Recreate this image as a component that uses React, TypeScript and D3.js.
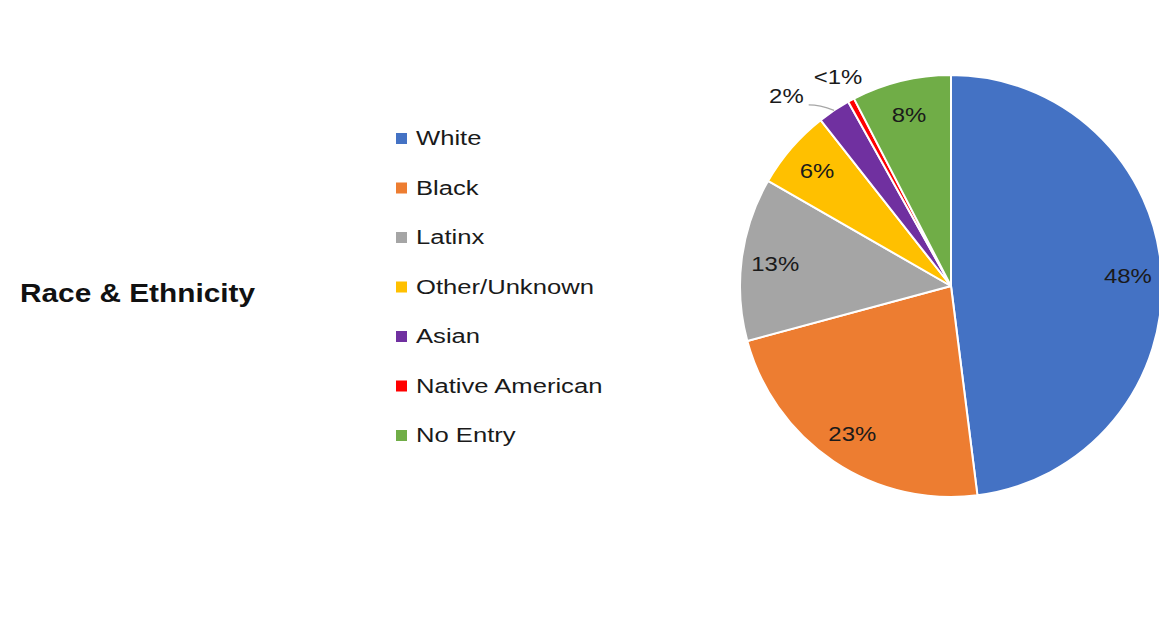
import React from "react";
import * as d3 from "d3";

const categories = ["White", "Black", "Latinx", "Other/Unknown", "Asian", "Native American", "No Entry"];
const shares = [48.0, 22.8, 12.5, 6.1, 2.5, 0.5, 7.6];
const shareLabels = ["48%", "23%", "13%", "6%", "2%", "<1%", "8%"];
const colors = ["#4472C4", "#ED7D31", "#A5A5A5", "#FFC000", "#7030A0", "#FF0000", "#70AD47"];
const title = "Race & Ethnicity";

const W = 1159;
const H = 617;
const cx = 951;
const cy = 286;
const R = 211;
const font = "'Liberation Sans', Arial, sans-serif";
const sx = 1.22;

export default function App() {
  const pie = d3.pie<number>().sort(null).value((d) => d)(shares);
  const arc = d3.arc<d3.PieArcDatum<number>>().innerRadius(0).outerRadius(R);
  const legendY = d3.scaleLinear().domain([0, categories.length - 1]).range([133, 430]);

  const polar = (a: number, r: number) => [cx + Math.sin(a) * r, cy - Math.cos(a) * r];

  return (
    <svg width={W} height={H} style={{ position: "absolute", left: 0, top: 0, background: "#fff" }}>
      <text x={20} y={302} fontFamily={font} fontWeight="bold" fontSize={26} textLength={235} lengthAdjust="spacingAndGlyphs" fill="#111">
        {title}
      </text>
      {categories.map((c, i) => (
        <g key={c}>
          <rect x={396} y={legendY(i)} width={11} height={11} fill={colors[i]} />
          <text
            transform={`translate(416,${legendY(i) + 12}) scale(${sx},1)`}
            fontFamily={font}
            fontSize={21}
            fill="#1a1a1a"
          >
            {c}
          </text>
        </g>
      ))}
      <g>
        {pie.map((p, i) => (
          <path key={i} d={arc(p) || ""} transform={`translate(${cx},${cy})`} fill={colors[i]} stroke="#fff" strokeWidth={2} strokeLinejoin="round" />
        ))}
      </g>
      {pie.map((p, i) => {
        const mid = (p.startAngle + p.endAngle) / 2;
        const lbl = shareLabels[i];
        if (lbl === "2%") {
          const [x0, y0] = polar(mid, R);
          const [x1, y1] = polar(mid - 0.04, R * 1.06);
          const x2 = x1 - 11;
          return (
            <g key={i}>
              <path d={`M${x0},${y0} Q${x1},${y1} ${x2},${y1}`} fill="none" stroke="#A6A6A6" strokeWidth={1.2} />
              <text transform={`translate(${x2 - 5},${y1 - 2}) scale(1.14,1)`} textAnchor="end" fontFamily={font} fontSize={21} fill="#1a1a1a">
                {lbl}
              </text>
            </g>
          );
        }
        if (lbl === "<1%") {
          const [x, y] = polar(mid, R * 1.13);
          return (
            <text key={i} transform={`translate(${x},${y + 8}) scale(1.14,1)`} textAnchor="middle" fontFamily={font} fontSize={21} fill="#1a1a1a">
              {lbl}
            </text>
          );
        }
        const [x, y] = polar(mid, R * 0.84);
        return (
          <text key={i} transform={`translate(${x},${y + 8}) scale(1.14,1)`} textAnchor="middle" fontFamily={font} fontSize={21} fill="#1a1a1a">
            {lbl}
          </text>
        );
      })}
    </svg>
  );
}
